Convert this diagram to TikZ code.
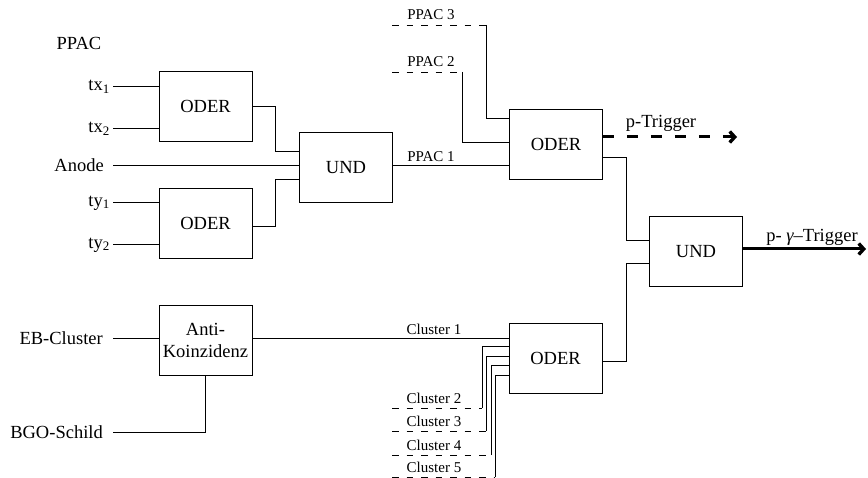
\documentclass[tikz,border=0pt]{standalone}
\usepackage{fontspec}
\setmainfont{Liberation Serif}
\usetikzlibrary{arrows.meta}
\begin{document}
\begin{tikzpicture}[x=1pt,y=-1pt,
  every node/.style={font=\fontsize{18.5}{22}\selectfont},
  gate/.style={draw,line width=0.9pt,minimum width=93pt,minimum height=70pt,inner sep=0pt,align=center},
  lbl/.style={inner sep=0pt},
  small/.style={inner sep=0pt,font=\fontsize{15}{17}\selectfont},
  wire/.style={line width=0.9pt},
  dwire/.style={line width=0.9pt,dash pattern=on 6.5pt off 8pt},
  thickarrow/.style={line width=3pt,-{Straight Barb[length=5pt,width=11pt,line width=3.4pt]}}]
\useasboundingbox (0,0) rectangle (868,478);

% gates
\node[gate] (o1) at (205.5,106) {ODER};
\node[gate] (o2) at (205.5,223) {ODER};
\node[gate] (u1) at (346,167.5) {UND};
\node[gate] (o3) at (556,144) {ODER};
\node[gate] (u2) at (696,251.5) {UND};
\node[gate] (o4) at (555.5,358.5) {ODER};
\node[gate] (ak) at (205.5,340) {Anti-\\Koinzidenz};

% input coordinates
\coordinate (tx1) at (113,86);
\coordinate (tx2) at (113,128);
\coordinate (an) at (113,165);
\coordinate (ty1) at (113,202);
\coordinate (ty2) at (113,244);
\coordinate (eb) at (113,338);
\coordinate (bgo) at (113,432);

% input labels
\node[lbl] (ppac) at (79,43) {PPAC};
\node[lbl,anchor=east] (ltx1) at (110,87) {tx\textsubscript{1}};
\node[lbl,anchor=east] (ltx2) at (110,129) {tx\textsubscript{2}};
\node[lbl,anchor=east] (lan) at (104,165) {Anode};
\node[lbl,anchor=east] (lty1) at (110,203) {ty\textsubscript{1}};
\node[lbl,anchor=east] (lty2) at (110,245) {ty\textsubscript{2}};
\node[lbl,anchor=east] (leb) at (103,338) {EB-Cluster};
\node[lbl,anchor=east] (lbgo) at (103,432) {BGO-Schild};

% PPAC inputs
\draw[wire] (tx1) -- (tx1 -| o1.west);
\draw[wire] (tx2) -- (tx2 -| o1.west);
\draw[wire] (ty1) -- (ty1 -| o2.west);
\draw[wire] (ty2) -- (ty2 -| o2.west);
\draw[wire] (an) -- (an -| u1.west);
\draw[wire] (o1.east |- 0,106) -- (275,106) |- (u1.west |- 0,151);
\draw[wire] (o2.east |- 0,226) -- (275,226) |- (u1.west |- 0,179);

% UND -> ODER (PPAC 1)
\draw[wire] (u1.east |- 0,165) -- (o3.west |- 0,165);
\node[small] (lp1) at (431,157) {PPAC 1};

% PPAC 2 and 3
\coordinate (p3) at (392,25);
\coordinate (p3c) at (486,25);
\coordinate (p2) at (392,72);
\coordinate (p2c) at (462,72);
\draw[dwire] (p3) -- (p3c);
\draw[wire] (p3c) |- (o3.west |- 0,118);
\draw[dwire] (p2) -- (p2c);
\draw[wire] (p2c) |- (o3.west |- 0,142);
\node[small] (lp3) at (431,15) {PPAC 3};
\node[small] (lp2) at (431,62) {PPAC 2};

% p-Trigger
\coordinate (pt) at (737,137);
\draw[thickarrow,dash pattern=on 11pt off 13pt] (o3.east |- 0,137) -- (pt);
\node[lbl] (lpt) at (661,123) {p-Trigger};

% ODER -> UND
\draw[wire] (o3.east |- 0,157) -- (626,157) |- (u2.west |- 0,240);
\draw[wire] (o4.east |- 0,361) -- (626,361) |- (u2.west |- 0,263);

% p-gamma-Trigger
\coordinate (pg) at (866,249);
\draw[thickarrow] (u2.east |- 0,249) -- (pg);
\node[lbl] (lpg) at (812,237) {p-\ {\itshape γ}–Trigger};

% Anti-Koinzidenz
\draw[wire] (eb) -- (eb -| ak.west);
\draw[wire] (bgo) -| (ak.south);
\draw[wire] (ak.east |- 0,338) -- (o4.west |- 0,338);
\node[small] (lc1) at (434,329) {Cluster 1};

% Clusters 2-5
\coordinate (c2) at (392,408); \coordinate (c2c) at (482,408);
\coordinate (c3) at (392,431); \coordinate (c3c) at (486,431);
\coordinate (c4) at (392,455); \coordinate (c4c) at (491,455);
\coordinate (c5) at (392,477); \coordinate (c5c) at (495,477);
\draw[dwire] (c2) -- (c2c);
\draw[dwire] (c3) -- (c3c);
\draw[dwire] (c4) -- (c4c);
\draw[dwire] (c5) -- (c5c);
\draw[wire] (c2c) |- (o4.west |- 0,346);
\draw[wire] (c3c) |- (o4.west |- 0,356);
\draw[wire] (c4c) |- (o4.west |- 0,365);
\draw[wire] (c5c) |- (o4.west |- 0,375);
\node[small] (lc2) at (434,398) {Cluster 2};
\node[small] (lc3) at (434,421) {Cluster 3};
\node[small] (lc4) at (434,445) {Cluster 4};
\node[small] (lc5) at (434,467) {Cluster 5};
\end{tikzpicture}
\end{document}
